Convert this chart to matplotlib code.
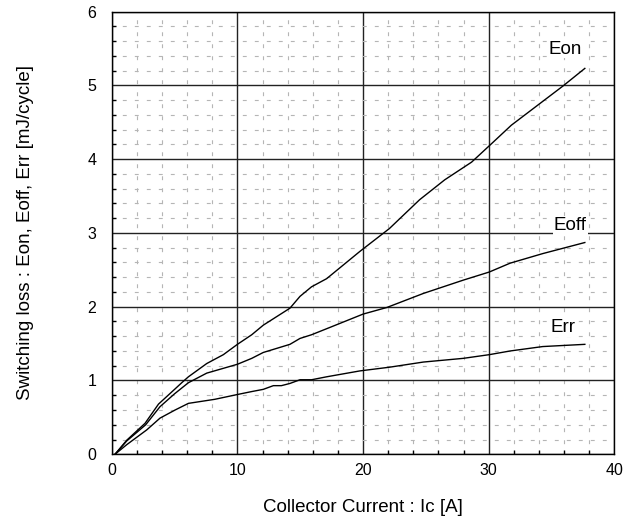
import matplotlib
matplotlib.use("Agg")
import matplotlib.pyplot as plt
from matplotlib.ticker import MultipleLocator

plt.rcParams['font.family'] = ['Liberation Sans', 'DejaVu Sans']

# Data
eon_x = [0.26, 1.19, 2.65, 3.72, 5.0, 5.57, 6.1, 7.56, 8.88, 10.0, 11.14, 12.06, 14.18, 14.98, 15.9,
         17.1, 19.75, 22.1, 24.5, 26.5, 28.64, 30.1, 31.8, 35.9, 37.65]
eon_y = [0.0, 0.19, 0.42, 0.68, 0.88, 0.97, 1.05, 1.23, 1.35, 1.49, 1.62, 1.75, 1.98, 2.14, 2.27,
         2.38, 2.75, 3.06, 3.45, 3.72, 3.96, 4.19, 4.46, 4.99, 5.23]

eoff_x = [0.26, 1.19, 2.7, 3.84, 5.0, 6.1, 7.56, 10.0, 11.14, 12.06, 14.18, 14.98, 15.9, 17.37,
          20.0, 21.9, 24.8, 27.97, 30.04, 31.7, 34.3, 37.65]
eoff_y = [0.0, 0.18, 0.40, 0.645, 0.82, 0.97, 1.10, 1.22, 1.30, 1.38, 1.49, 1.57, 1.62, 1.72,
          1.90, 1.99, 2.18, 2.36, 2.47, 2.59, 2.72, 2.87]

err_x = [0.26, 1.19, 2.78, 3.84, 5.04, 6.1, 8.2, 10.0, 11.14, 12.06, 12.86, 13.5,
         14.18, 14.98, 15.9, 17.1, 19.75, 22.1, 24.8, 27.97, 30.04, 31.7, 34.3, 37.65]
err_y = [0.0, 0.13, 0.33, 0.49, 0.60, 0.69, 0.745, 0.81, 0.85, 0.88, 0.93, 0.93,
         0.96, 1.01, 1.01, 1.05, 1.13, 1.18, 1.25, 1.30, 1.35, 1.40, 1.46, 1.49]

series_labels = ["Eon", "Eoff", "Err"]
label_x = [36.1, 36.5, 35.9]
label_y = [5.49, 3.10, 1.72]

x_ticks = [0, 10, 20, 30, 40]
y_ticks = [0, 1, 2, 3, 4, 5, 6]

fig = plt.figure(figsize=(6.35, 5.27), dpi=100)
ax = fig.add_axes([0.176, 0.138, 0.7915, 0.840])

ax.set_xlim(0, 40)
ax.set_ylim(0, 6)
ax.set_xticks(x_ticks)
ax.set_yticks(y_ticks)
ax.xaxis.set_minor_locator(MultipleLocator(2))
ax.yaxis.set_minor_locator(MultipleLocator(0.2))

ax.grid(which='minor', color='#b5b5b5', linewidth=0.8, linestyle=(1.5, (3.5, 7.3)))
ax.grid(which='major', color='#222222', linewidth=1.0, linestyle='-')
ax.set_axisbelow(True)

ax.tick_params(which='major', length=0, labelsize=11.5)
ax.tick_params(axis='x', which='major', pad=6)
ax.tick_params(axis='y', which='major', pad=11)
ax.tick_params(which='minor', direction='in', length=3, width=1.0, color='black')

for s in ax.spines.values():
    s.set_color('black')
    s.set_linewidth(1.0)

for xs, ys in [(eon_x, eon_y), (eoff_x, eoff_y), (err_x, err_y)]:
    ax.plot(xs, ys, color='black', linewidth=1.0, zorder=3)

for lab, lx, ly in zip(series_labels, label_x, label_y):
    ax.text(lx, ly, lab, fontsize=13.5, ha='center', va='center', zorder=4,
            bbox=dict(facecolor='white', edgecolor='none', pad=0.5))

ax.set_xlabel("Collector Current : Ic [A]", fontsize=13.5)
ax.set_ylabel("Switching loss : Eon, Eoff, Err [mJ/cycle]", fontsize=13.5)
ax.xaxis.set_label_coords(0.5, -0.100)
ax.yaxis.set_label_coords(-0.155, 0.5)

fig.savefig("out.png", dpi=100)
